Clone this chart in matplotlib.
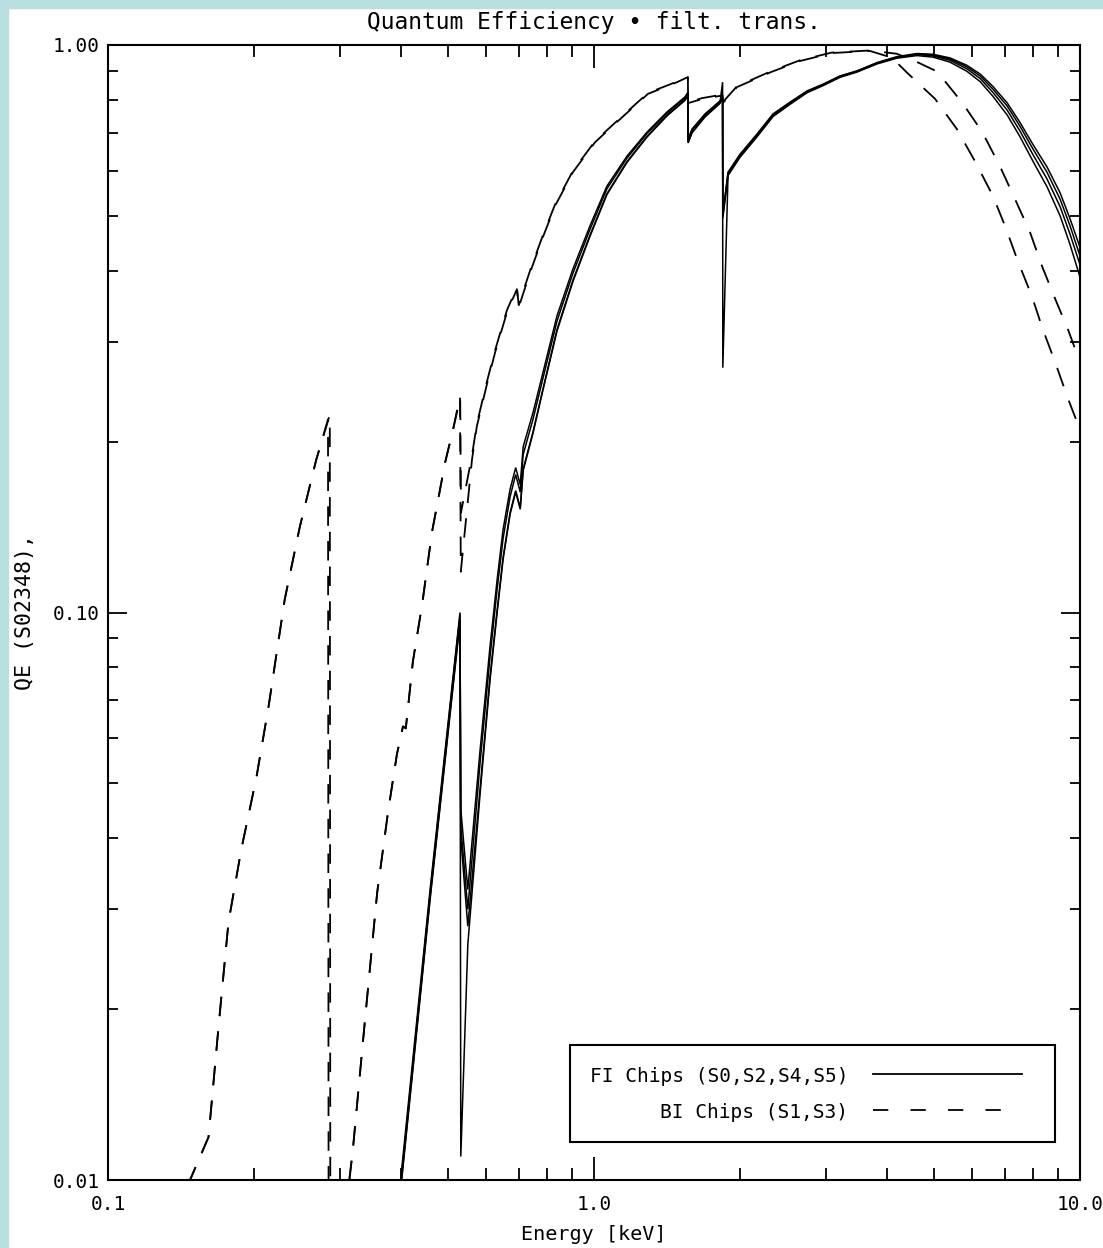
import matplotlib
matplotlib.use("Agg")
import matplotlib.pyplot as plt
from matplotlib.patches import Rectangle
from matplotlib.lines import Line2D
from matplotlib.ticker import LogLocator, FixedLocator, FixedFormatter, NullFormatter

plt.rcParams["font.family"] = ["DejaVu Sans Mono"]
plt.rcParams["lines.scale_dashes"] = False

# FI chips (S0, S2, S4, S5): shared energy grid [keV]
fi_energy = [0.395, 0.460, 0.530, 0.532, 0.550, 0.583, 0.611, 0.632, 0.650, 0.672,
             0.690, 0.705, 0.715, 0.749, 0.782, 0.839, 0.905, 0.981, 1.063, 1.169,
             1.285, 1.413, 1.539, 1.560, 1.562, 1.591, 1.692, 1.816, 1.839, 1.841,
             1.887, 1.997, 2.165, 2.335, 2.531, 2.744, 2.960, 3.208, 3.477, 3.822,
             4.203, 4.620, 4.984, 5.400, 5.850, 6.230, 6.620, 7.080, 7.520, 8.010,
             8.550, 9.100, 9.540, 10.00]
qe_s0 = [0.0090, 0.0325, 0.100, 0.045, 0.0325, 0.0573, 0.0871, 0.1143, 0.140, 0.165,
         0.180, 0.168, 0.196, 0.225, 0.261, 0.333, 0.403, 0.480, 0.564, 0.637,
         0.702, 0.762, 0.810, 0.825, 0.683, 0.711, 0.756, 0.797, 0.810, 0.503,
         0.597, 0.642, 0.697, 0.756, 0.793, 0.830, 0.853, 0.882, 0.900, 0.930,
         0.952, 0.964, 0.960, 0.945, 0.915, 0.882, 0.836, 0.781, 0.720, 0.655,
         0.597, 0.535, 0.480, 0.425]
qe_s2 = [0.0088, 0.0320, 0.099, 0.042, 0.0300, 0.0545, 0.0835, 0.110, 0.135, 0.160,
         0.175, 0.163, 0.190, 0.219, 0.255, 0.326, 0.396, 0.473, 0.558, 0.632,
         0.698, 0.758, 0.806, 0.822, 0.680, 0.708, 0.753, 0.794, 0.806, 0.500,
         0.594, 0.639, 0.694, 0.753, 0.791, 0.828, 0.852, 0.881, 0.900, 0.931,
         0.954, 0.966, 0.963, 0.949, 0.921, 0.889, 0.845, 0.791, 0.731, 0.667,
         0.610, 0.549, 0.494, 0.440]
qe_s4 = [0.0087, 0.0315, 0.097, 0.011, 0.0260, 0.0480, 0.0760, 0.100, 0.124, 0.149,
         0.163, 0.152, 0.178, 0.207, 0.243, 0.313, 0.383, 0.460, 0.545, 0.621,
         0.688, 0.750, 0.799, 0.815, 0.672, 0.700, 0.747, 0.789, 0.860, 0.270,
         0.590, 0.636, 0.691, 0.750, 0.788, 0.826, 0.850, 0.879, 0.898, 0.929,
         0.951, 0.962, 0.957, 0.940, 0.908, 0.873, 0.825, 0.768, 0.706, 0.640,
         0.581, 0.519, 0.464, 0.410]
qe_s5 = [0.0086, 0.0312, 0.096, 0.040, 0.0280, 0.0490, 0.0770, 0.101, 0.125, 0.150,
         0.164, 0.153, 0.179, 0.208, 0.244, 0.315, 0.385, 0.462, 0.547, 0.623,
         0.690, 0.752, 0.800, 0.816, 0.674, 0.702, 0.748, 0.790, 0.802, 0.495,
         0.589, 0.634, 0.689, 0.748, 0.786, 0.824, 0.848, 0.877, 0.896, 0.926,
         0.948, 0.958, 0.952, 0.933, 0.899, 0.862, 0.812, 0.753, 0.690, 0.623,
         0.563, 0.500, 0.445, 0.390]

# BI chips (S1, S3)
s1_energy = [0.146, 0.161, 0.169, 0.177, 0.188, 0.202, 0.214, 0.231, 0.248, 0.268,
             0.2836, 0.2845, 0.319, 0.338, 0.358, 0.377, 0.393, 0.4045, 0.410, 0.424,
             0.443, 0.464, 0.494, 0.513, 0.530, 0.532, 0.561, 0.574, 0.602, 0.626,
             0.662, 0.694, 0.700, 0.739, 0.782, 0.831, 0.905, 1.005, 1.131, 1.291,
             1.482, 1.560, 1.562, 1.668, 1.839, 1.841, 1.969, 2.313, 2.654, 3.088,
             3.698, 4.10, 4.40, 5.03, 5.58, 6.08, 6.62, 7.01, 7.45, 7.96,
             8.39, 8.89, 9.45, 10.0]
qe_s1 = [0.0098, 0.0119, 0.0188, 0.0285, 0.0382, 0.0512, 0.0683, 0.1054, 0.1413, 0.1854,
         0.219, 0.005, 0.0113, 0.0192, 0.0321, 0.0446, 0.0562, 0.063, 0.0625, 0.082,
         0.1033, 0.1384, 0.1839, 0.2103, 0.2404, 0.118, 0.186, 0.2128, 0.2523, 0.2874,
         0.338, 0.3713, 0.345, 0.3977, 0.4548, 0.520, 0.597, 0.674, 0.740, 0.820,
         0.860, 0.878, 0.790, 0.803, 0.815, 0.790, 0.843, 0.896, 0.937, 0.968,
         0.976, 0.950, 0.895, 0.804, 0.711, 0.624, 0.542, 0.480, 0.416, 0.361,
         0.315, 0.276, 0.238, 0.210]
s3_energy = [0.146, 0.161, 0.169, 0.177, 0.188, 0.202, 0.214, 0.231, 0.248, 0.268,
             0.2860, 0.2868, 0.319, 0.338, 0.358, 0.377, 0.393, 0.4045, 0.410, 0.424,
             0.443, 0.464, 0.494, 0.513, 0.5305, 0.5325, 0.561, 0.574, 0.602, 0.626,
             0.662, 0.694, 0.700, 0.739, 0.782, 0.831, 0.905, 1.005, 1.131, 1.291,
             1.482, 1.560, 1.562, 1.668, 1.839, 1.841, 1.969, 2.313, 2.654, 3.088,
             3.698, 4.20, 4.60, 5.08, 5.72, 6.29, 6.84, 7.35, 7.89, 8.35,
             8.89, 9.45, 10.0]
qe_s3 = [0.0098, 0.0119, 0.0188, 0.0285, 0.0382, 0.0512, 0.0683, 0.1054, 0.1413, 0.1854,
         0.223, 0.005, 0.0113, 0.0192, 0.0321, 0.0446, 0.0562, 0.063, 0.0625, 0.082,
         0.1033, 0.1384, 0.1839, 0.2103, 0.2390, 0.150, 0.189, 0.2150, 0.2550, 0.2900,
         0.3410, 0.3740, 0.3480, 0.4010, 0.4580, 0.5230, 0.6000, 0.6770, 0.7430, 0.8230,
         0.8620, 0.8800, 0.7930, 0.8060, 0.8180, 0.7930, 0.8460, 0.8990, 0.9400, 0.9700,
         0.9780, 0.9650, 0.9350, 0.898, 0.792, 0.703, 0.612, 0.535, 0.468, 0.408,
         0.357, 0.315, 0.276]

x_ticks = [0.1, 1.0, 10.0]
x_tick_labels = ["0.1", "1.0", "10.0"]
y_ticks = [0.01, 0.1, 1.0]
y_tick_labels = ["0.01", "0.10", "1.00"]
legend_labels = ["FI Chips (S0,S2,S4,S5)", "BI Chips (S1,S3)"]

W, H = 1103, 1248
fig = plt.figure(figsize=(W / 100, H / 100), dpi=100, facecolor="white")

# light blue frame strips (left and top)
bg = "#b9dfe1"
fig.patches.append(Rectangle((0, 0), 8 / W, 1, transform=fig.transFigure, color=bg, zorder=-1))
fig.patches.append(Rectangle((0, 1 - 8 / H), 1, 8 / H, transform=fig.transFigure, color=bg, zorder=-1))

ax = fig.add_axes([108 / W, 1 - 1180 / H, 972 / W, 1135 / H])
ax.set_xscale("log")
ax.set_yscale("log")
ax.set_xlim(0.1, 10.0)
ax.set_ylim(0.01, 1.0)

for qe in (qe_s0, qe_s2, qe_s4, qe_s5):
    ax.plot(fi_energy, qe, color="black", lw=1.1, solid_joinstyle="miter")
for en, qe in ((s1_energy, qe_s1), (s3_energy, qe_s3)):
    ax.plot(en, qe, color="black", lw=1.3, linestyle=(0, (14, 11)))

ax.xaxis.set_major_locator(FixedLocator(x_ticks))
ax.xaxis.set_major_formatter(FixedFormatter(x_tick_labels))
ax.yaxis.set_major_locator(FixedLocator(y_ticks))
ax.yaxis.set_major_formatter(FixedFormatter(y_tick_labels))
for axis in (ax.xaxis, ax.yaxis):
    axis.set_minor_locator(LogLocator(base=10, subs=range(2, 10)))
    axis.set_minor_formatter(NullFormatter())

ax.tick_params(which="both", direction="in", top=True, right=True, width=1.3,
               labelsize=14, color="black")
ax.tick_params(axis="x", which="major", length=16.5, pad=11)
ax.tick_params(axis="x", which="minor", length=8.5)
ax.tick_params(axis="y", which="major", length=14, pad=6)
ax.tick_params(axis="y", which="minor", length=7)
for sp in ax.spines.values():
    sp.set_linewidth(1.5)

# legend box, text on the left, line sample on the right
def ax_frac(px, py):
    return (px - 108) / 972, (1180 - py) / 1135

x0, y0 = ax_frac(570, 1142)
x1, y1 = ax_frac(1055, 1045)
ax.add_patch(Rectangle((x0, y0), x1 - x0, y1 - y0, transform=ax.transAxes,
                       fill=False, lw=1.5, ec="black", zorder=5))
tx, ty1 = ax_frac(848, 1077)
_, ty2 = ax_frac(848, 1112)
ax.text(tx, ty1, legend_labels[0], transform=ax.transAxes, ha="right", va="center", fontsize=14)
ax.text(tx, ty2, legend_labels[1], transform=ax.transAxes, ha="right", va="center", fontsize=14)
lx0, ly1 = ax_frac(873, 1074)
lx1, _ = ax_frac(1022, 1074)
lx2, ly2 = ax_frac(1004, 1110)
ax.add_line(Line2D([lx0, lx1], [ly1, ly1], transform=ax.transAxes, color="black", lw=1.3))
ax.add_line(Line2D([lx0, lx2], [ly2, ly2], transform=ax.transAxes, color="black", lw=1.3,
                   linestyle=(0, (11, 16))))

fig.text(594 / W, 1 - 23 / H, "Quantum Efficiency \u2022 filt. trans.", ha="center", va="center", fontsize=16.5)
fig.text(594 / W, 1 - 1234 / H, "Energy [keV]", ha="center", va="center", fontsize=14.5)
fig.text(25 / W, 1 - 612 / H, "QE (S02348),", ha="center", va="center", rotation=90, fontsize=15.5)

fig.savefig("out.png", dpi=100)
